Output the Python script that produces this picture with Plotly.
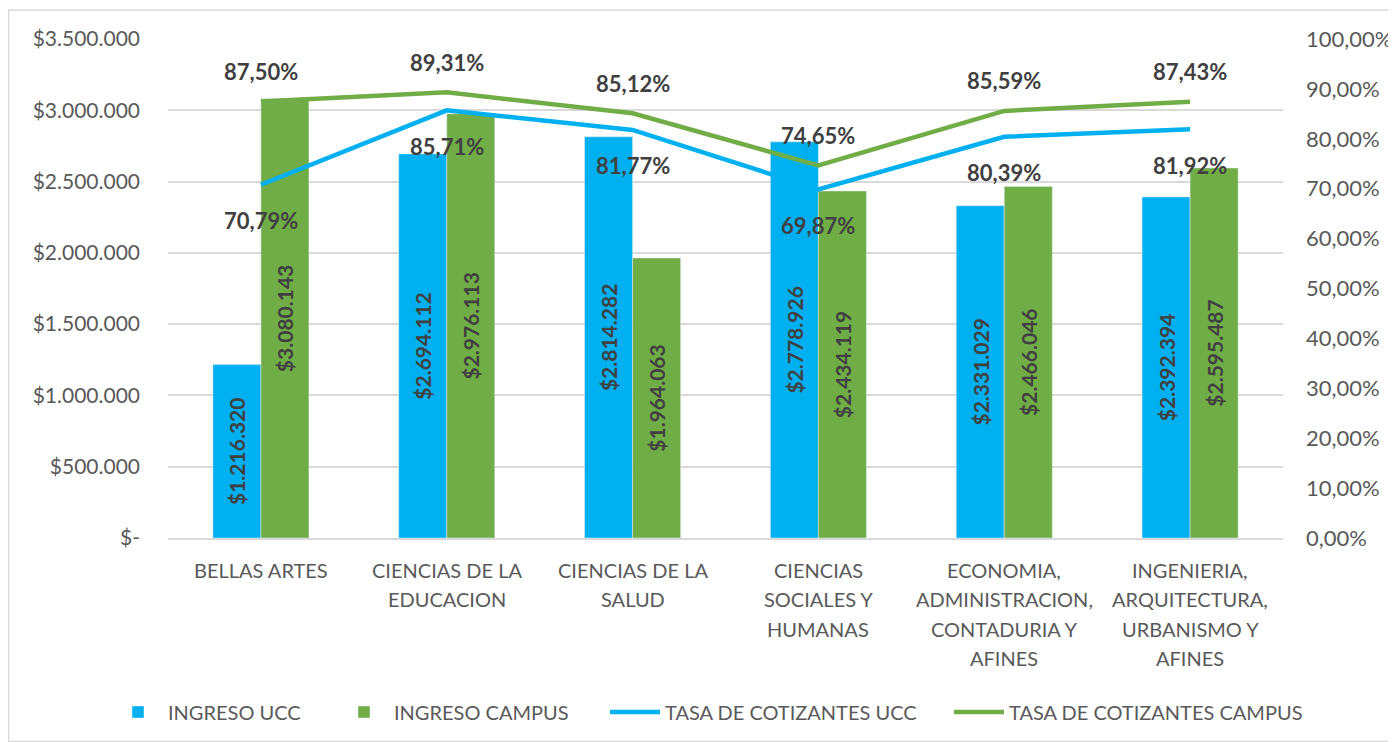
import plotly.graph_objects as go

categories = ["BELLAS ARTES", "CIENCIAS DE LA<br>EDUCACION", "CIENCIAS DE LA<br>SALUD",
              "CIENCIAS<br>SOCIALES Y<br>HUMANAS", "ECONOMIA,<br>ADMINISTRACION,<br>CONTADURIA Y<br>AFINES",
              "INGENIERIA,<br>ARQUITECTURA,<br>URBANISMO Y<br>AFINES"]
ingreso_ucc = [1216320, 2694112, 2814282, 2778926, 2331029, 2392394]
ingreso_campus = [3080143, 2976113, 1964063, 2434119, 2466046, 2595487]
tasa_ucc = [70.79, 85.71, 81.77, 69.87, 80.39, 81.92]
tasa_campus = [87.50, 89.31, 85.12, 74.65, 85.59, 87.43]
left_ticks = [0, 500000, 1000000, 1500000, 2000000, 2500000, 3000000, 3500000]
left_ticktext = ["$-", "$500.000", "$1.000.000", "$1.500.000", "$2.000.000", "$2.500.000", "$3.000.000", "$3.500.000"]
series_names = ["INGRESO UCC", "INGRESO CAMPUS", "TASA DE COTIZANTES UCC", "TASA DE COTIZANTES CAMPUS"]

BLUE = "#00B0F0"
GREEN = "#70AD47"
FONT = "Lato"
TXT = "#404040"
AX = "#595959"

# page body adds an 8px offset; figure sized to fit the window
W, H = 1388, 734
L, R, T, B = 160, 113, 31, 204

# page x where each legend entry's text begins (Excel-like uneven spacing)
legend_text_x = [171, 397, 668, 1012]
legend_ids = ["legend", "legend2", "legend3", "legend4"]

fig = go.Figure()
fig.add_trace(go.Bar(x=categories, y=ingreso_ucc, name=series_names[0], marker_color=BLUE,
                     texttemplate="$%{y:,.0f}", textposition="inside", insidetextanchor="middle",
                     textangle=-90, textfont=dict(family=FONT, size=21, color=TXT, weight="bold"),
                     cliponaxis=False, legend=legend_ids[0]))
fig.add_trace(go.Bar(x=categories, y=ingreso_campus, name=series_names[1], marker_color=GREEN,
                     texttemplate="$%{y:,.0f}", textposition="inside", insidetextanchor="middle",
                     textangle=-90, textfont=dict(family=FONT, size=21, color=TXT, weight="bold"),
                     cliponaxis=False, legend=legend_ids[1]))
fig.add_trace(go.Scatter(x=categories, y=tasa_ucc, name=series_names[2], mode="lines",
                         line=dict(color=BLUE, width=4.5), yaxis="y2", legend=legend_ids[2]))
fig.add_trace(go.Scatter(x=categories, y=tasa_campus, name=series_names[3], mode="lines",
                         line=dict(color=GREEN, width=4.5), yaxis="y2", legend=legend_ids[3]))

for c, v in zip(categories, tasa_campus):
    fig.add_annotation(x=c, y=v, yref="y2", text=f"{v:.2f}%".replace(".", ","), showarrow=False,
                       yshift=30, font=dict(family=FONT, size=22, color=TXT, weight="bold"))
for c, v in zip(categories, tasa_ucc):
    fig.add_annotation(x=c, y=v, yref="y2", text=f"{v:.2f}%".replace(".", ","), showarrow=False,
                       yshift=-36, font=dict(family=FONT, size=22, color=TXT, weight="bold"))

# category labels (one annotation per text line for Excel-like line spacing)
for c in categories:
    for i, line in enumerate(c.split("<br>")):
        fig.add_annotation(x=c, y=0, yref="paper", text=line, showarrow=False,
                           yanchor="middle", yshift=-(32 + i * 29.4),
                           font=dict(family=FONT, size=20, color=AX))

pw = W - L - R
ph = H - T - B


def px_x(p):
    return (p - L) / pw


def px_y(p):
    return (H - B - p) / ph


fig.add_shape(type="rect", xref="paper", yref="paper",
              x0=px_x(0.5), x1=px_x(W - 1), y0=px_y(H - 0.5), y1=px_y(2),
              line=dict(color="#D9D9D9", width=1.5), layer="below")

legend_layouts = {}
for lid, tx in zip(legend_ids, legend_text_x):
    legend_layouts[lid] = dict(orientation="h", xref="container", yref="container",
                               x=(tx - 8 - 63) / W, xanchor="left",
                               y=1 - (712 - 8) / H, yanchor="middle",
                               font=dict(family=FONT, size=20, color=AX), itemwidth=50,
                               bgcolor="rgba(0,0,0,0)")

fig.update_layout(
    width=W, height=H,
    margin=dict(l=L, r=R, t=T, b=B, autoexpand=False),
    paper_bgcolor="white", plot_bgcolor="white",
    separators=",.",
    barmode="group", bargap=0.483, bargroupgap=0,
    font=dict(family=FONT, size=20, color=AX),
    xaxis=dict(showline=True, linecolor="#D9D9D9", linewidth=1.5, ticks="", showticklabels=False),
    yaxis=dict(range=[0, 3500000], tickvals=left_ticks, ticktext=left_ticktext,
               gridcolor="#D9D9D9", gridwidth=1.5, zeroline=False, showline=False,
               tickfont=dict(family=FONT, size=21, color=AX), ticklabelstandoff=27),
    yaxis2=dict(range=[0, 100], dtick=10, tickformat=".2f", ticksuffix="%", overlaying="y",
                side="right", showgrid=False, zeroline=False,
                tickfont=dict(family=FONT, size=22, color=AX), ticklabelstandoff=22),
    showlegend=True,
    **legend_layouts,
)

fig.write_html("out.html")
